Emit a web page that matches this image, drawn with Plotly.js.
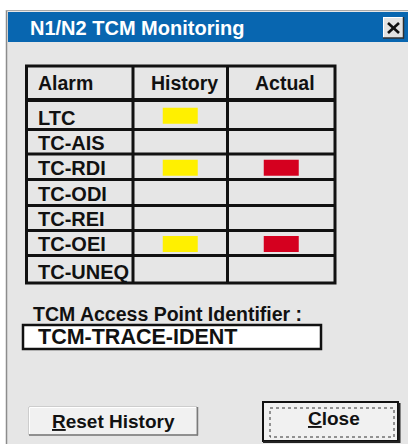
<!DOCTYPE html>
<html><head><meta charset="utf-8">
<script src="https://cdn.plot.ly/plotly-3.0.1.min.js"></script>
<style>html,body{margin:0;padding:0;background:#fff;overflow:hidden}#chart{width:408px;height:444px}</style>
</head><body><div id="chart"></div>
<script>
// ---- content / data ----
const dialogTitle = 'N1/N2 TCM Monitoring';
const columnHeaders = ['Alarm', 'History', 'Actual'];
const alarms = ['LTC', 'TC-AIS', 'TC-RDI', 'TC-ODI', 'TC-REI', 'TC-OEI', 'TC-UNEQ'];
const historyState = [1, 0, 1, 0, 0, 1, 0];
const actualState  = [0, 0, 1, 0, 0, 1, 0];
const identifierLabel = 'TCM Access Point Identifier :';
const identifierValue = 'TCM-TRACE-IDENT';
const buttonLabels = ['<u>R</u>eset History', '<u>C</u>lose'];

// ---- geometry (pixel space) ----
const W = 408, H = 444;
const FONT = '"Liberation Sans", Arial, sans-serif';
const BG = '#e6e6e6';
const INK = '#111111';
const colEdges = [26.5, 133, 227.5, 335];
const tableTop = 66;
const rowEdges = [100, 129.5, 154, 179.5, 205.5, 230.5, 255.5, 283];
const headerCenters = [null, 184, 285];
const colCenter = i => (colEdges[i] + colEdges[i + 1]) / 2;
const rowCenter = i => (rowEdges[i] + rowEdges[i + 1]) / 2;

function indicator(states, col, color, name) {
  const y = [], x = [], base = [];
  states.forEach((s, i) => {
    if (s) { y.push(rowCenter(i) + 1); x.push(35); base.push(colCenter(col) - 17.5); }
  });
  return { type: 'bar', orientation: 'h', name, y, x, base, width: 16,
    marker: { color, line: { width: 0 } }, hoverinfo: 'skip', showlegend: false };
}

const traces = [
  indicator(historyState, 1, '#fff000', 'History'),
  indicator(actualState, 2, '#d5001f', 'Actual')
];

const shapes = [];
const rect = (x0, y0, x1, y1, fill, line, lw, extra) => shapes.push(Object.assign({
  type: 'rect', xref: 'x', yref: 'y', x0, y0, x1, y1, fillcolor: fill,
  line: { color: line || fill, width: lw || 0 }, layer: 'below' }, extra || {}));
const seg = (x0, y0, x1, y1, color, w, extra) => shapes.push(Object.assign({
  type: 'line', xref: 'x', yref: 'y', x0, y0, x1, y1, line: { color, width: w }, layer: 'below' }, extra || {}));

// dialog frame
rect(6, 10, W, H, BG);
seg(6.5, 10, 6.5, H, '#8c8c8c', 1.5);
seg(6, 10.5, W, 10.5, '#a8a8a8', 1);
rect(8, 12, W, 42, '#0866b0');
// close glyph button
rect(383, 17, 403, 38, '#e2e2e2');
seg(383, 17.5, 403, 17.5, '#ffffff', 1);
seg(383.5, 17, 383.5, 38, '#ffffff', 1);
seg(383, 38, 404, 38, '#303030', 1.5);
seg(403.5, 17, 403.5, 38.5, '#303030', 1.5);
seg(388, 23, 399, 33, INK, 2.6, { layer: 'above' });
seg(399, 23, 388, 33, INK, 2.6, { layer: 'above' });

// table grid
rowEdges.slice(0, -1).forEach((y, i) => seg(colEdges[0], y, colEdges[3], y, INK, i === 0 ? 4 : 3));
colEdges.slice(1, -1).forEach(x => seg(x, tableTop, x, rowEdges[rowEdges.length - 1], INK, 3));
rect(colEdges[0], tableTop, colEdges[3], rowEdges[rowEdges.length - 1], 'rgba(0,0,0,0)', INK, 3);

// identifier field
rect(23, 325, 321, 349, '#ffffff', INK, 2.5);

// Reset History button
rect(29, 407, 197, 435, '#f1f1f1', '#b4b4b4', 1);
seg(29.5, 407.5, 196, 407.5, '#ffffff', 1);
seg(29.5, 407.5, 29.5, 434, '#ffffff', 1);
seg(29, 435, 198, 435, '#7a7a7a', 1.5);
seg(197.5, 407, 197.5, 435.5, '#7a7a7a', 1.5);

// Close button
rect(263, 402, 398, 441, '#f1f1f1', INK, 2);
seg(263, 442, 400, 442, '#222222', 2);
seg(399.5, 403, 399.5, 443, '#222222', 2);
rect(270, 408, 394, 437, 'rgba(0,0,0,0)', '#333333', 1, { line: { color: '#333333', width: 1, dash: 'dot' } });

// ---- text ----
const ann = (text, x, y, size, opts) => Object.assign({
  text, x, y, xref: 'x', yref: 'y', showarrow: false, xanchor: 'left', yanchor: 'middle',
  font: { family: FONT, size, color: INK, weight: 'bold' } }, opts || {});

const annotations = [];
annotations.push(ann('<b>' + dialogTitle + '</b>', 28, 27.5, 20, { font: { family: FONT, size: 20, color: '#ffffff' } }));
annotations.push(ann('<b>' + columnHeaders[0] + '</b>', 36, 83, 19.5));
annotations.push(ann('<b>' + columnHeaders[1] + '</b>', headerCenters[1], 83, 19.5, { xanchor: 'center' }));
annotations.push(ann('<b>' + columnHeaders[2] + '</b>', headerCenters[2], 83, 19.5, { xanchor: 'center' }));
alarms.forEach((a, i) => annotations.push(ann('<b>' + a + '</b>', 36, rowEdges[i + 1] - 11.5, 20)));
annotations.push(ann('<b>' + identifierLabel + '</b>', 31, 314, 19.5));
annotations.push(ann('<b>' + identifierValue + '</b>', 36, 337, 21.5));
annotations.push(ann('<b>' + buttonLabels[0] + '</b>', 113, 421, 19, { xanchor: 'center' }));
annotations.push(ann('<b>' + buttonLabels[1] + '</b>', 333.5, 418, 19, { xanchor: 'center' }));

const layout = {
  width: W, height: H, margin: { l: 0, r: 0, t: 0, b: 0, pad: 0 },
  paper_bgcolor: '#ffffff', plot_bgcolor: 'rgba(0,0,0,0)',
  xaxis: { range: [0, W], visible: false, fixedrange: true },
  yaxis: { range: [H, 0], visible: false, fixedrange: true },
  barmode: 'overlay', showlegend: false, shapes, annotations
};
Plotly.newPlot('chart', traces, layout, { staticPlot: true, displayModeBar: false });
</script></body></html>
